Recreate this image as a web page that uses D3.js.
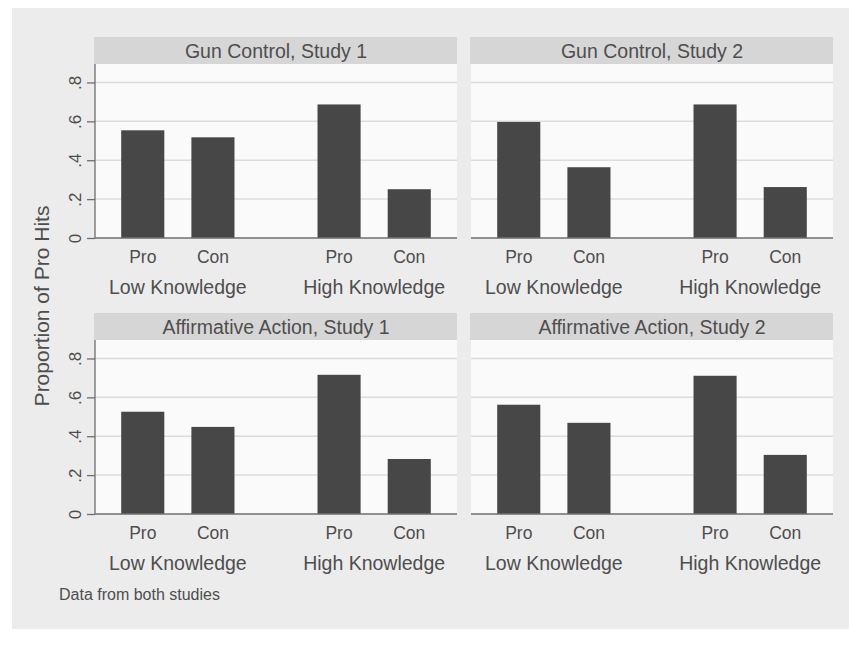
<!DOCTYPE html>
<html>
<head>
<meta charset="UTF-8">
<script src="https://cdnjs.cloudflare.com/ajax/libs/d3/7.8.5/d3.min.js"></script>
<style>
  body { margin: 0; background: #fff; font-family: "Liberation Sans", Arial, sans-serif; }
  text { fill: #4e4e4e; }
</style>
</head>
<body>
<svg id="chart" width="849" height="660"></svg>
<script>
// data
const panelTitles = ["Gun Control, Study 1", "Gun Control, Study 2",
                     "Affirmative Action, Study 1", "Affirmative Action, Study 2"];
const groups = ["Low Knowledge", "High Knowledge"];
const sides = ["Pro", "Con"];
// order: Low-Pro, Low-Con, High-Pro, High-Con
const gunStudy1 = [0.554, 0.518, 0.687, 0.251];
const gunStudy2 = [0.597, 0.364, 0.687, 0.262];
const affStudy1 = [0.526, 0.448, 0.716, 0.283];
const affStudy2 = [0.562, 0.469, 0.711, 0.304];
const yTicks = [0, 0.2, 0.4, 0.6, 0.8];
const yTickLabels = ["0", ".2", ".4", ".6", ".8"];

const panelValues = [gunStudy1, gunStudy2, affStudy1, affStudy2];

const svg = d3.select("#chart");

// outer grey background
svg.append("rect").attr("x", 12).attr("y", 8).attr("width", 837).attr("height", 621)
  .attr("fill", "#ececec");

const plotW = 362, plotH = 174, stripH = 27;
const lefts = [95, 471];
const tops = [64, 340];

const y = d3.scaleLinear().domain([0, 0.895]).range([plotH, 0]);
const xGroup = d3.scaleBand().domain(groups).range([0, plotW])
  .paddingInner(0.285).paddingOuter(0.0645);
const xSide = d3.scaleBand().domain(sides).range([0, xGroup.bandwidth()])
  .paddingInner(0.386).paddingOuter(0.193);

panelValues.forEach((vals, i) => {
  const col = i % 2, row = Math.floor(i / 2);
  const g = svg.append("g").attr("transform", `translate(${lefts[col]},${tops[row]})`);

  // strip
  g.append("rect").attr("x", -1).attr("y", -stripH).attr("width", plotW + 1).attr("height", stripH)
    .attr("fill", "#d6d6d6");
  g.append("text").attr("x", plotW / 2).attr("y", -stripH / 2 + 7)
    .attr("text-anchor", "middle").style("font-size", "19.5px").text(panelTitles[i]);

  // plot area
  g.append("rect").attr("width", plotW).attr("height", plotH).attr("fill", "#fafafa");

  // grid
  g.selectAll(".grid").data(yTicks.slice(1)).join("line")
    .attr("x1", 0).attr("x2", plotW)
    .attr("y1", d => y(d)).attr("y2", d => y(d))
    .attr("stroke", "#dcdcdc").attr("stroke-width", 1.5);

  // bars
  const rows = [];
  groups.forEach((gr, gi) => sides.forEach((s, si) => rows.push({ gr, s, v: vals[gi * 2 + si] })));
  g.selectAll(".bar").data(rows).join("rect")
    .attr("x", d => xGroup(d.gr) + xSide(d.s))
    .attr("width", xSide.bandwidth())
    .attr("y", d => y(d.v))
    .attr("height", d => plotH - y(d.v))
    .attr("fill", "#474747");

  // y axis on left column only
  if (col === 0) {
    const ya = d3.axisLeft(y).tickValues(yTicks).tickFormat((d, k) => yTickLabels[k])
      .tickSize(8).tickPadding(4);
    const ax = g.append("g").call(ya);
    ax.select(".domain").remove();
    ax.selectAll(".tick line").attr("stroke", "#6e6e6e").attr("stroke-width", 1.3);
    ax.selectAll(".tick text")
      .attr("x", 0).attr("dy", 0)
      .attr("transform", "translate(-14,0) rotate(-90)")
      .attr("text-anchor", "middle")
      .attr("fill", "#4e4e4e")
      .style("font-size", "17px").style("font-family", "Liberation Sans, Arial, sans-serif");
    g.append("line").attr("x1", 0).attr("x2", 0).attr("y1", 0).attr("y2", plotH)
      .attr("stroke", "#6e6e6e").attr("stroke-width", 1.3);
  }

  // baseline
  g.append("line").attr("x1", 0).attr("x2", plotW).attr("y1", plotH).attr("y2", plotH)
    .attr("stroke", "#6e6e6e").attr("stroke-width", 1.3);

  // category labels
  g.selectAll(".side").data(rows).join("text")
    .attr("x", d => xGroup(d.gr) + xSide(d.s) + xSide.bandwidth() / 2)
    .attr("y", plotH + 25)
    .attr("text-anchor", "middle").style("font-size", "17.5px").text(d => d.s);
  g.selectAll(".grp").data(groups).join("text")
    .attr("x", d => xGroup(d) + xGroup.bandwidth() / 2)
    .attr("y", plotH + 56)
    .attr("text-anchor", "middle").style("font-size", "19.5px").text(d => d);
});

// y title
svg.append("text").attr("transform", "translate(49,306) rotate(-90)")
  .attr("text-anchor", "middle").style("font-size", "21px").text("Proportion of Pro Hits");

// note
svg.append("text").attr("x", 59).attr("y", 600).style("font-size", "16px")
  .text("Data from both studies");
</script>
</body>
</html>
